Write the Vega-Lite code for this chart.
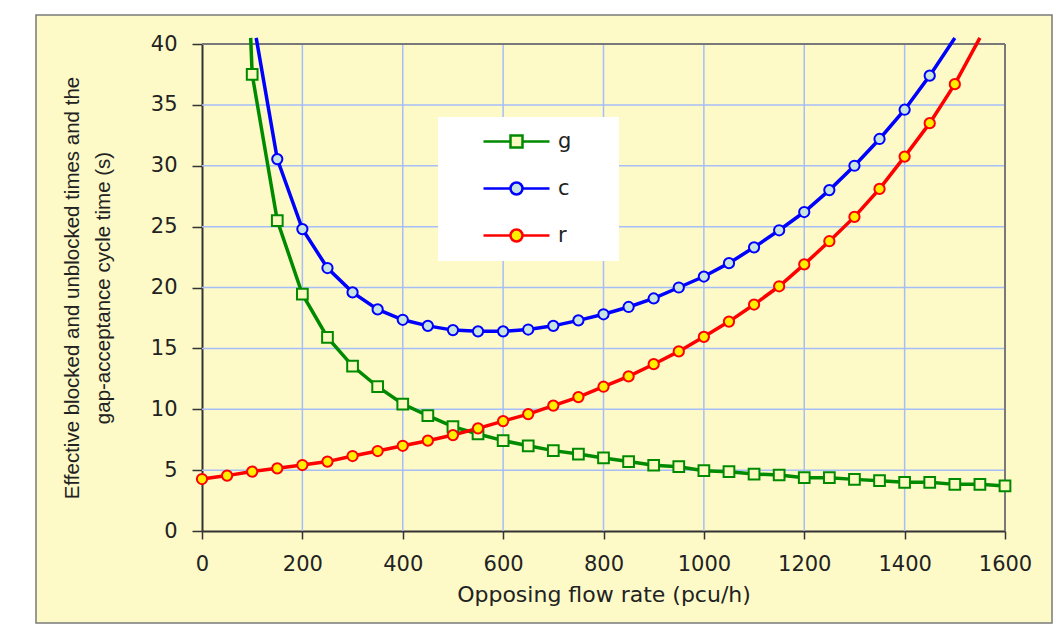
{
  "$schema": "https://vega.github.io/schema/vega-lite/v6.json",
  "width": 1016,
  "height": 608,
  "autosize": {"type": "none"},
  "padding": {"left": 36, "top": 15, "right": 4, "bottom": 15},
  "background": "#ffffff",
  "config": {
    "view": {"fill": "#fdfac8", "stroke": "#7a7a7a", "strokeWidth": 1.5},
    "font": "Liberation Sans"
  },
  "datasets": {
    "curves": [
      {"q": 97, "series": "g", "value": 40.5},
      {"q": 100, "series": "g", "value": 37.5},
      {"q": 150, "series": "g", "value": 25.5},
      {"q": 200, "series": "g", "value": 19.45},
      {"q": 250, "series": "g", "value": 15.9},
      {"q": 300, "series": "g", "value": 13.55},
      {"q": 350, "series": "g", "value": 11.85},
      {"q": 400, "series": "g", "value": 10.43},
      {"q": 450, "series": "g", "value": 9.47},
      {"q": 500, "series": "g", "value": 8.57},
      {"q": 550, "series": "g", "value": 7.97},
      {"q": 600, "series": "g", "value": 7.42},
      {"q": 650, "series": "g", "value": 7.0},
      {"q": 700, "series": "g", "value": 6.6},
      {"q": 750, "series": "g", "value": 6.32},
      {"q": 800, "series": "g", "value": 6.0},
      {"q": 850, "series": "g", "value": 5.7},
      {"q": 900, "series": "g", "value": 5.4},
      {"q": 950, "series": "g", "value": 5.28},
      {"q": 1000, "series": "g", "value": 4.95},
      {"q": 1050, "series": "g", "value": 4.87},
      {"q": 1100, "series": "g", "value": 4.68},
      {"q": 1150, "series": "g", "value": 4.6},
      {"q": 1200, "series": "g", "value": 4.38},
      {"q": 1250, "series": "g", "value": 4.38},
      {"q": 1300, "series": "g", "value": 4.24},
      {"q": 1350, "series": "g", "value": 4.13},
      {"q": 1400, "series": "g", "value": 4.0},
      {"q": 1450, "series": "g", "value": 4.0},
      {"q": 1500, "series": "g", "value": 3.83},
      {"q": 1550, "series": "g", "value": 3.83},
      {"q": 1600, "series": "g", "value": 3.7},
      {"q": 108, "series": "c", "value": 40.5},
      {"q": 150, "series": "c", "value": 30.55},
      {"q": 200, "series": "c", "value": 24.8},
      {"q": 250, "series": "c", "value": 21.6},
      {"q": 300, "series": "c", "value": 19.6},
      {"q": 350, "series": "c", "value": 18.2},
      {"q": 400, "series": "c", "value": 17.35},
      {"q": 450, "series": "c", "value": 16.85},
      {"q": 500, "series": "c", "value": 16.5},
      {"q": 550, "series": "c", "value": 16.4},
      {"q": 600, "series": "c", "value": 16.4},
      {"q": 650, "series": "c", "value": 16.55},
      {"q": 700, "series": "c", "value": 16.85},
      {"q": 750, "series": "c", "value": 17.3},
      {"q": 800, "series": "c", "value": 17.8},
      {"q": 850, "series": "c", "value": 18.4},
      {"q": 900, "series": "c", "value": 19.1},
      {"q": 950, "series": "c", "value": 20.0},
      {"q": 1000, "series": "c", "value": 20.9},
      {"q": 1050, "series": "c", "value": 22.0},
      {"q": 1100, "series": "c", "value": 23.3},
      {"q": 1150, "series": "c", "value": 24.7},
      {"q": 1200, "series": "c", "value": 26.2},
      {"q": 1250, "series": "c", "value": 28.0},
      {"q": 1300, "series": "c", "value": 30.0},
      {"q": 1350, "series": "c", "value": 32.2},
      {"q": 1400, "series": "c", "value": 34.6},
      {"q": 1450, "series": "c", "value": 37.4},
      {"q": 1500, "series": "c", "value": 40.5},
      {"q": 0, "series": "r", "value": 4.27},
      {"q": 50, "series": "r", "value": 4.55},
      {"q": 100, "series": "r", "value": 4.88},
      {"q": 150, "series": "r", "value": 5.15},
      {"q": 200, "series": "r", "value": 5.42},
      {"q": 250, "series": "r", "value": 5.7},
      {"q": 300, "series": "r", "value": 6.16},
      {"q": 350, "series": "r", "value": 6.57},
      {"q": 400, "series": "r", "value": 7.0},
      {"q": 450, "series": "r", "value": 7.42},
      {"q": 500, "series": "r", "value": 7.88},
      {"q": 550, "series": "r", "value": 8.43},
      {"q": 600, "series": "r", "value": 9.03},
      {"q": 650, "series": "r", "value": 9.6},
      {"q": 700, "series": "r", "value": 10.3},
      {"q": 750, "series": "r", "value": 11.0},
      {"q": 800, "series": "r", "value": 11.85},
      {"q": 850, "series": "r", "value": 12.7},
      {"q": 900, "series": "r", "value": 13.7},
      {"q": 950, "series": "r", "value": 14.75},
      {"q": 1000, "series": "r", "value": 15.95},
      {"q": 1050, "series": "r", "value": 17.2},
      {"q": 1100, "series": "r", "value": 18.6},
      {"q": 1150, "series": "r", "value": 20.1},
      {"q": 1200, "series": "r", "value": 21.9},
      {"q": 1250, "series": "r", "value": 23.8},
      {"q": 1300, "series": "r", "value": 25.8},
      {"q": 1350, "series": "r", "value": 28.1},
      {"q": 1400, "series": "r", "value": 30.75},
      {"q": 1450, "series": "r", "value": 33.5},
      {"q": 1500, "series": "r", "value": 36.7},
      {"q": 1550, "series": "r", "value": 40.5}
    ],
    "xgrid": [{"gx": 200}, {"gx": 400}, {"gx": 600}, {"gx": 800}, {"gx": 1000}, {"gx": 1200}, {"gx": 1400}],
    "ygrid": [{"gy": 5}, {"gy": 10}, {"gy": 15}, {"gy": 20}, {"gy": 25}, {"gy": 30}, {"gy": 35}]
  },
  "layer": [
    {
      "data": {"name": "xgrid"},
      "mark": {"type": "rule", "color": "#a6bdf7", "strokeWidth": 1.5},
      "encoding": {
        "x": {"field": "gx", "type": "quantitative"},
        "y": {"datum": 0},
        "y2": {"datum": 40}
      }
    },
    {
      "data": {"name": "ygrid"},
      "mark": {"type": "rule", "color": "#a6bdf7", "strokeWidth": 1.5},
      "encoding": {
        "y": {"field": "gy", "type": "quantitative"},
        "x": {"datum": 0},
        "x2": {"datum": 1600}
      }
    },
    {
      "data": {"name": "curves"},
      "mark": {"type": "rule", "color": "#7a7a7a", "strokeWidth": 1.5},
      "encoding": {"y": {"datum": 40}, "x": {"datum": 0}, "x2": {"datum": 1600}}
    },
    {
      "data": {"name": "curves"},
      "mark": {"type": "rule", "color": "#7a7a7a", "strokeWidth": 1.5},
      "encoding": {"x": {"datum": 1600}, "y": {"datum": 0}, "y2": {"datum": 40}}
    },
    {
      "data": {"name": "curves"},
      "mark": {"type": "line", "strokeWidth": 3.5},
      "encoding": {
        "x": {
          "field": "q",
          "type": "quantitative",
          "scale": {"domain": [0, 1600], "range": [166, 969], "nice": false, "zero": false},
          "axis": {
            "orient": "bottom",
            "offset": -92,
            "values": [0, 200, 400, 600, 800, 1000, 1200, 1400, 1600],
            "format": "d",
            "grid": false,
            "domainColor": "#333333",
            "domainWidth": 2,
            "tickColor": "#333333",
            "tickWidth": 1.5,
            "tickSize": 8,
            "labelFont": "DejaVu Sans",
            "labelFontSize": 21,
            "labelColor": "#222222",
            "labelPadding": 14,
            "labelFlush": false,
            "labelOverlap": false,
            "title": "Opposing flow rate (pcu/h)",
            "titleFont": "DejaVu Sans",
            "titleFontSize": 22,
            "titleFontWeight": "normal",
            "titleColor": "#222222",
            "titlePadding": 10
          }
        },
        "y": {
          "field": "value",
          "type": "quantitative",
          "scale": {"domain": [0, 40], "range": [516, 29], "nice": false, "zero": false},
          "axis": {
            "orient": "left",
            "offset": -166,
            "values": [0, 5, 10, 15, 20, 25, 30, 35, 40],
            "grid": false,
            "domainColor": "#333333",
            "domainWidth": 2,
            "tickColor": "#333333",
            "tickWidth": 1.5,
            "tickSize": 10,
            "labelFont": "DejaVu Sans",
            "labelFontSize": 21,
            "labelColor": "#222222",
            "labelPadding": 15,
            "labelOverlap": false,
            "title": ["Effective blocked and unblocked times and the", "gap-acceptance cycle time (s)"],
            "titleFont": "Liberation Sans",
            "titleFontSize": 20.5,
            "titleFontWeight": "normal",
            "titleColor": "#222222",
            "titleLineHeight": 31,
            "titlePadding": 37
          }
        },
        "color": {
          "field": "series",
          "type": "nominal",
          "scale": {"domain": ["g", "c", "r"], "range": ["#008a00", "#0000ff", "#ff0000"]},
          "legend": {
            "orient": "none",
            "legendX": 402,
            "legendY": 102,
            "title": null,
            "padding": 14,
            "fillColor": "#ffffff",
            "strokeColor": null,
            "labelFont": "DejaVu Sans",
            "labelFontSize": 21,
            "labelColor": "#222222",
            "labelOffset": 85,
            "rowPadding": 24,
            "symbolSize": 100,
            "symbolStrokeWidth": 2.5,
            "encode": {
              "symbols": {
                "update": {
                  "shape": {"signal": "datum.value === 'g' ? 'M4.2,0H9.6M12,0H17.4M9.6,-1.2H12V1.2H9.6ZM27.4,0' : 'M4.2,0H9.6M12,0H17.4M9.6,0A1.2,1.2,0,1,0,12,0A1.2,1.2,0,1,0,9.6,0ZM27.4,0'"},
                  "fill": {"signal": "datum.value === 'g' ? '#fafac0' : datum.value === 'c' ? '#c8e4e0' : '#ffee00'"},
                  "stroke": {"signal": "datum.value === 'g' ? '#008a00' : datum.value === 'c' ? '#0000ff' : '#ff0000'"},
                  "strokeWidth": {"value": 2.5},
                  "opacity": {"value": 1}
                }
              }
            }
          }
        }
      }
    },
    {
      "data": {"name": "curves"},
      "transform": [{"filter": "datum.value < 40 && datum.series === 'g'"}],
      "mark": {"type": "point", "shape": "square", "filled": false, "strokeWidth": 2, "size": 115, "opacity": 1},
      "encoding": {
        "x": {"field": "q", "type": "quantitative"},
        "y": {"field": "value", "type": "quantitative"},
        "color": {"field": "series", "type": "nominal", "legend": null},
        "fill": {
          "field": "series",
          "type": "nominal",
          "scale": {"domain": ["g", "c", "r"], "range": ["#fafac0", "#c8e4e0", "#ffee00"]},
          "legend": null
        }
      }
    },
    {
      "data": {"name": "curves"},
      "transform": [{"filter": "datum.value < 40 && datum.series !== 'g'"}],
      "mark": {"type": "point", "shape": "circle", "filled": false, "strokeWidth": 2, "size": 105, "opacity": 1},
      "encoding": {
        "x": {"field": "q", "type": "quantitative"},
        "y": {"field": "value", "type": "quantitative"},
        "color": {"field": "series", "type": "nominal", "legend": null},
        "fill": {"field": "series", "type": "nominal", "legend": null}
      }
    }
  ]
}
